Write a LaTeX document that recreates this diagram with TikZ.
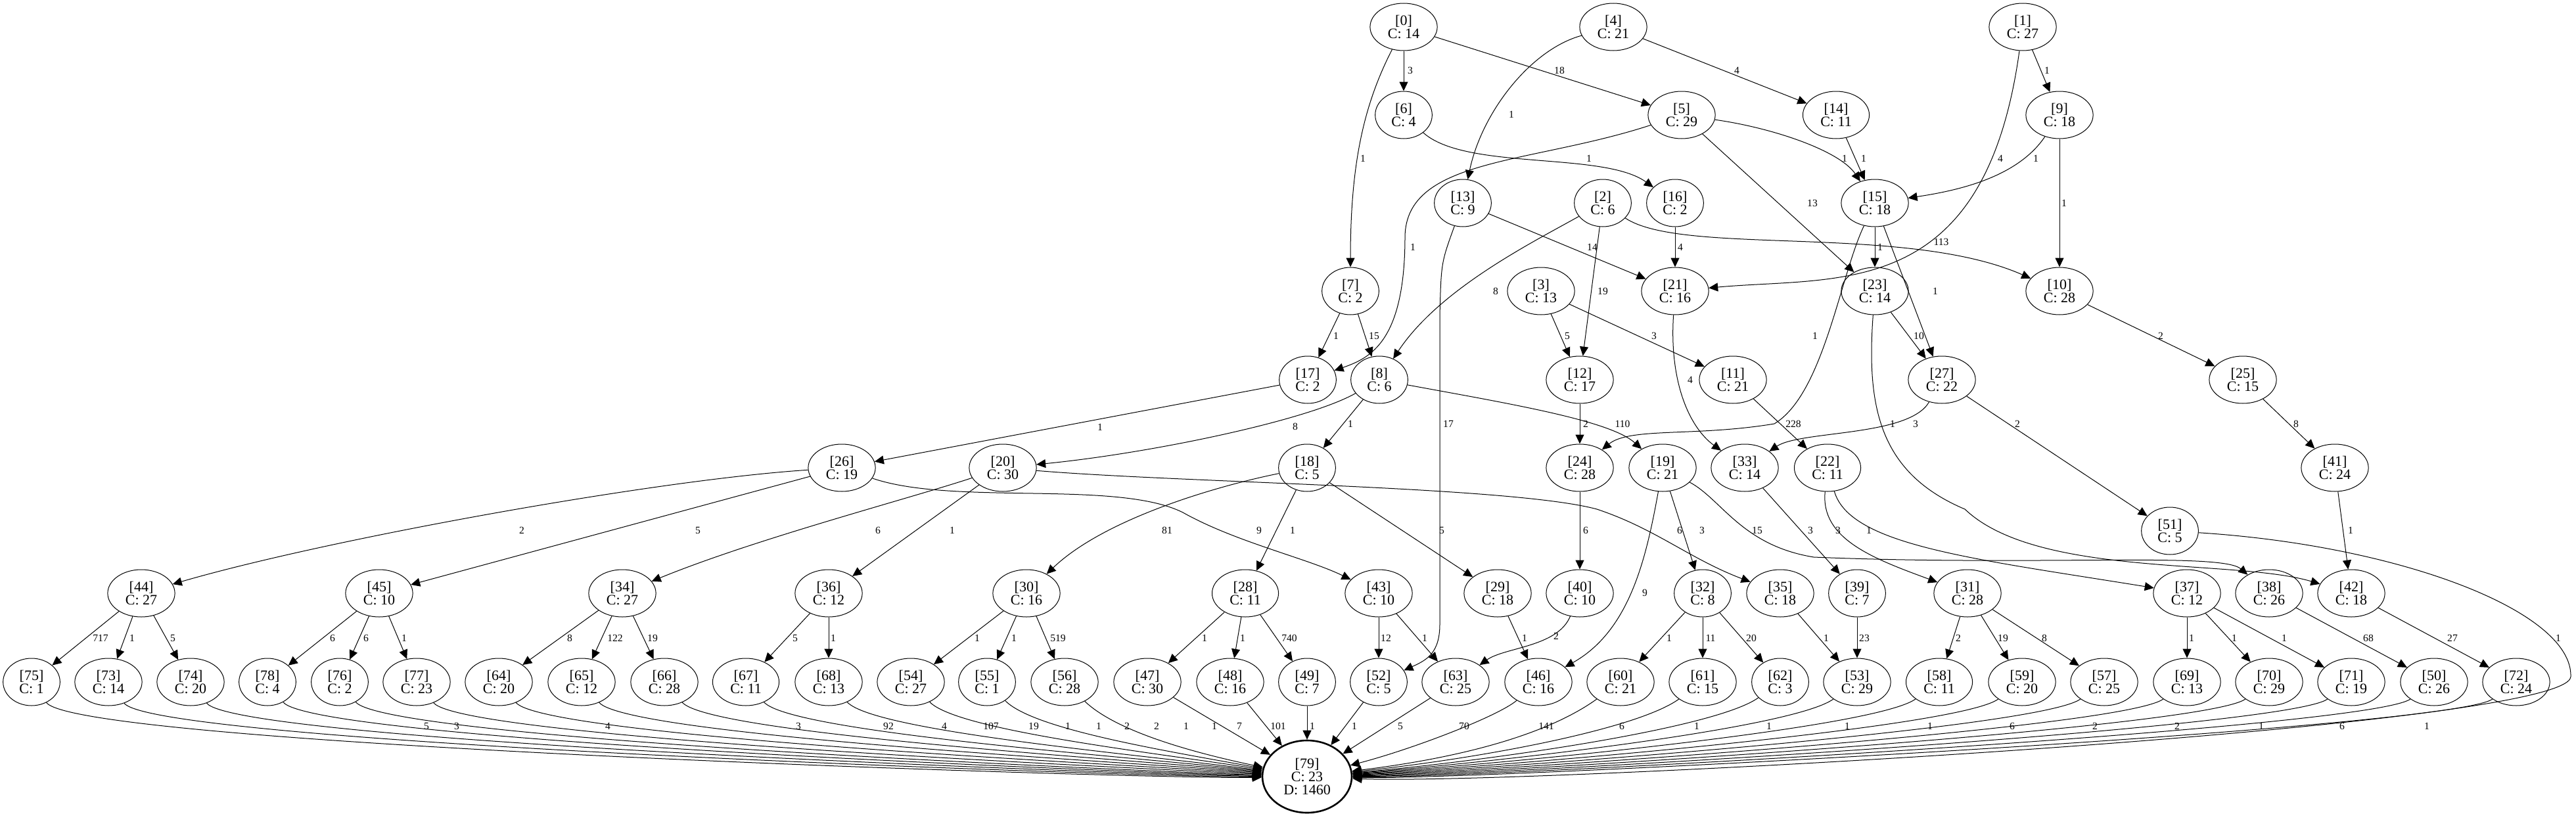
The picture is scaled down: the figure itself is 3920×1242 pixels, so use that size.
\documentclass[tikz,border=0pt]{standalone}
\usepackage{fontspec}
\setmainfont{Liberation Serif}
\usetikzlibrary{shapes.geometric, arrows.meta}

\tikzset{
  state/.style={ellipse, draw, line width=0.5pt, inner xsep=6pt, inner ysep=0pt,
    minimum height=36pt, align=center, font=\fontsize{11}{9.8}\selectfont},
  sink/.style={state, line width=1.3pt, minimum width=68pt, minimum height=55pt},
  flow/.style={-{Triangle[length=7pt,width=6.5pt]}, line width=0.5pt},
  cnt/.style={font=\fontsize{7.8}{8}\selectfont, inner sep=0pt}
}

\begin{document}
\begin{tikzpicture}[x=0.5pt, y=-0.5pt]
\useasboundingbox (0,0) rectangle (3920,1242);

% rank 0
\node[state] (n0) at (2136,41) {[0]\\C: 14};
\node[state] (n4) at (2455,41) {[4]\\C: 21};
\node[state] (n1) at (3078,41) {[1]\\C: 27};
% rank 1
\node[state] (n6) at (2136,175) {[6]\\C: 4};
\node[state] (n5) at (2559,175) {[5]\\C: 29};
\node[state] (n14) at (2794,175) {[14]\\C: 11};
\node[state] (n9) at (3134,175) {[9]\\C: 18};
% rank 2
\node[state] (n13) at (2226,309) {[13]\\C: 9};
\node[state] (n2) at (2439,309) {[2]\\C: 6};
\node[state] (n16) at (2549,309) {[16]\\C: 2};
\node[state] (n15) at (2853,309) {[15]\\C: 18};
% rank 3
\node[state] (n7) at (2055,443) {[7]\\C: 2};
\node[state] (n3) at (2345,443) {[3]\\C: 13};
\node[state] (n21) at (2549,443) {[21]\\C: 16};
\node[state] (n23) at (2853,443) {[23]\\C: 14};
\node[state] (n10) at (3134,443) {[10]\\C: 28};
% rank 4
\node[state] (n17) at (1990,578) {[17]\\C: 2};
\node[state] (n8) at (2099,578) {[8]\\C: 6};
\node[state] (n12) at (2404,578) {[12]\\C: 17};
\node[state] (n11) at (2637,578) {[11]\\C: 21};
\node[state] (n27) at (2955,578) {[27]\\C: 22};
\node[state] (n25) at (3413,578) {[25]\\C: 15};
% rank 5
\node[state] (n26) at (1281,712) {[26]\\C: 19};
\node[state] (n20) at (1526,712) {[20]\\C: 30};
\node[state] (n18) at (1989,712) {[18]\\C: 5};
\node[state] (n24) at (2404,712) {[24]\\C: 28};
\node[state] (n19) at (2530,712) {[19]\\C: 21};
\node[state] (n33) at (2655,712) {[33]\\C: 14};
\node[state] (n22) at (2781,712) {[22]\\C: 11};
\node[state] (n41) at (3553,712) {[41]\\C: 24};
\node[state] (n51) at (3302,808) {[51]\\C: 5};
% rank 6
\node[state] (n44) at (215,903) {[44]\\C: 27};
\node[state] (n45) at (577,903) {[45]\\C: 10};
\node[state] (n34) at (947,903) {[34]\\C: 27};
\node[state] (n36) at (1261,903) {[36]\\C: 12};
\node[state] (n30) at (1562,903) {[30]\\C: 16};
\node[state] (n28) at (1895,903) {[28]\\C: 11};
\node[state] (n43) at (2098,903) {[43]\\C: 10};
\node[state] (n29) at (2279,903) {[29]\\C: 18};
\node[state] (n40) at (2404,903) {[40]\\C: 10};
\node[state] (n32) at (2591,903) {[32]\\C: 8};
\node[state] (n35) at (2709,903) {[35]\\C: 18};
\node[state] (n39) at (2826,903) {[39]\\C: 7};
\node[state] (n31) at (2994,903) {[31]\\C: 28};
\node[state] (n37) at (3328,903) {[37]\\C: 12};
\node[state] (n38) at (3453,903) {[38]\\C: 26};
\node[state] (n42) at (3578,903) {[42]\\C: 18};
% rank 7
\node[state] (n75) at (48,1038) {[75]\\C: 1};
\node[state] (n73) at (165,1038) {[73]\\C: 14};
\node[state] (n74) at (290,1038) {[74]\\C: 20};
\node[state] (n78) at (407,1038) {[78]\\C: 4};
\node[state] (n76) at (517,1038) {[76]\\C: 2};
\node[state] (n77) at (634,1038) {[77]\\C: 23};
\node[state] (n64) at (759,1038) {[64]\\C: 20};
\node[state] (n65) at (885,1038) {[65]\\C: 12};
\node[state] (n66) at (1011,1038) {[66]\\C: 28};
\node[state] (n67) at (1135,1038) {[67]\\C: 11};
\node[state] (n68) at (1261,1038) {[68]\\C: 13};
\node[state] (n54) at (1386,1038) {[54]\\C: 27};
\node[state] (n55) at (1502,1038) {[55]\\C: 1};
\node[state] (n56) at (1620,1038) {[56]\\C: 28};
\node[state] (n47) at (1746,1038) {[47]\\C: 30};
\node[state] (n48) at (1872,1038) {[48]\\C: 16};
\node[state] (n49) at (1989,1038) {[49]\\C: 7};
\node[state] (n52) at (2098,1038) {[52]\\C: 5};
\node[state] (n63) at (2215,1038) {[63]\\C: 25};
\node[state] (n46) at (2341,1038) {[46]\\C: 16};
\node[state] (n60) at (2466,1038) {[60]\\C: 21};
\node[state] (n61) at (2591,1038) {[61]\\C: 15};
\node[state] (n62) at (2709,1038) {[62]\\C: 3};
\node[state] (n53) at (2826,1038) {[53]\\C: 29};
\node[state] (n58) at (2951,1038) {[58]\\C: 11};
\node[state] (n59) at (3077,1038) {[59]\\C: 20};
\node[state] (n57) at (3202,1038) {[57]\\C: 25};
\node[state] (n69) at (3328,1038) {[69]\\C: 13};
\node[state] (n70) at (3453,1038) {[70]\\C: 29};
\node[state] (n71) at (3578,1038) {[71]\\C: 19};
\node[state] (n50) at (3704,1038) {[50]\\C: 26};
\node[state] (n72) at (3829,1038) {[72]\\C: 24};
% sink
\node[sink] (n79) at (1989,1182) {[79]\\C: 23\\D: 1460};

% upper part
\draw[flow] (n0) -- (n6) node[cnt] at (2146,107) {3};
\draw[flow] (n0) -- (n5) node[cnt] at (2373,107) {18};
\draw[flow] (n0) .. controls (2075,160) and (2055,250) .. (n7) node[cnt] at (2074,241) {1};
\draw[flow] (n4) -- (n14) node[cnt] at (2643,107) {4};
\draw[flow] (n4) .. controls (2330,75) and (2255,170) .. (n13) node[cnt] at (2300,174) {1};
\draw[flow] (n1) -- (n9) node[cnt] at (3115,107) {1};
\draw[flow] (n1) .. controls (3020,460) and (2800,420) .. (n21) node[cnt] at (3044,241) {4};
\draw[flow] (n9) .. controls (3070,270) and (2980,290) .. (n15) node[cnt] at (3098,241) {1};
\draw[flow] (n9) -- (n10) node[cnt] at (3141,309) {1};
\draw[flow] (n5) .. controls (2700,195) and (2800,230) .. (n15) node[cnt] at (2807,241) {1};
\draw[flow] (n14) -- (n15) node[cnt] at (2836,241) {1};
\draw[flow] (n5) .. controls (2330,250) and (2140,240) .. (2138,360)
  .. controls (2138,520) and (2085,545) .. (n17) node[cnt] at (2150,376) {1};
\draw[flow] (n5) -- (n23) node[cnt] at (2758,309) {13};
\draw[flow] (n6) .. controls (2230,260) and (2440,230) .. (n16) node[cnt] at (2418,241) {1};
\draw[flow] (n13) -- (n21) node[cnt] at (2423,376) {14};
\draw[flow] (n13) .. controls (2193,400) .. (2191,480) -- (2191,950)
  .. controls (2191,995) and (2170,1005) .. (n52) node[cnt] at (2204,645) {17};
\draw[flow] (n2) .. controls (2330,370) and (2190,440) .. (n8) node[cnt] at (2276,443) {8};
\draw[flow] (n2) -- (n12) node[cnt] at (2439,443) {19};
\draw[flow] (n2) .. controls (2560,390) and (2900,340) .. (n10) node[cnt] at (2954,368) {113};
\draw[flow] (n16) -- (n21) node[cnt] at (2557,376) {4};
\draw[flow] (n15) -- (n23) node[cnt] at (2861,376) {1};
\draw[flow] (n15) -- (n27) node[cnt] at (2945,443) {1};
\draw[flow] (n15) .. controls (2800,420) and (2775,600) .. (2700,645)
  .. controls (2580,665) and (2480,650) .. (n24) node[cnt] at (2762,511) {1};
\draw[flow] (n10) -- (n25) node[cnt] at (3288,511) {2};
\draw[flow] (n7) -- (n17) node[cnt] at (2033,511) {1};
\draw[flow] (n7) -- (n8) node[cnt] at (2091,511) {15};
\draw[flow] (n3) -- (n12) node[cnt] at (2385,511) {5};
\draw[flow] (n3) -- (n11) node[cnt] at (2517,511) {3};
\draw[flow] (n21) .. controls (2540,580) and (2570,650) .. (n33) node[cnt] at (2572,578) {4};
\draw[flow] (n23) -- (n27) node[cnt] at (2920,511) {10};
\draw[flow] (n23) .. controls (2840,620) and (2860,720) .. (2990,775)
  .. controls (3100,880) and (3400,850) .. (n42) node[cnt] at (2880,645) {1};
\draw[flow] (n27) .. controls (2905,665) and (2740,655) .. (n33) node[cnt] at (2915,645) {3};
\draw[flow] (n27) -- (n51) node[cnt] at (3070,645) {2};
\draw[flow] (n25) -- (n41) node[cnt] at (3494,645) {8};
\draw[flow] (n41) -- (n42) node[cnt] at (3577,807) {1};

% middle part
\draw[flow] (n17) -- (n26) node[cnt] at (1674,650) {1};
\draw[flow] (n8) .. controls (1990,640) and (1750,690) .. (n20) node[cnt] at (1971,649) {8};
\draw[flow] (n8) -- (n18) node[cnt] at (2055,645) {1};
\draw[flow] (n8) .. controls (2300,615) and (2450,640) .. (n19) node[cnt] at (2469,645) {110};
\draw[flow] (n12) -- (n24) node[cnt] at (2413,645) {2};
\draw[flow] (n11) -- (n22) node[cnt] at (2729,645) {228};
\draw[flow] (n26) .. controls (1000,730) and (500,820) .. (n44) node[cnt] at (794,807) {2};
\draw[flow] (n26) -- (n45) node[cnt] at (1062,807) {5};
\draw[flow] (n26) .. controls (1450,770) and (1700,730) .. (1800,780)
  .. controls (1880,825) and (1990,850) .. (n43) node[cnt] at (1916,807) {9};
\draw[flow] (n20) .. controls (1380,760) and (1150,820) .. (n34) node[cnt] at (1336,807) {6};
\draw[flow] (n20) -- (n36) node[cnt] at (1449,807) {1};
\draw[flow] (n20) .. controls (1800,735) and (2300,740) .. (2430,775)
  .. controls (2520,805) and (2570,850) .. (n35) node[cnt] at (2556,807) {6};
\draw[flow] (n18) .. controls (1850,740) and (1680,790) .. (n30) node[cnt] at (1776,807) {81};
\draw[flow] (n18) -- (n28) node[cnt] at (1967,807) {1};
\draw[flow] (n18) -- (n29) node[cnt] at (2194,807) {5};
\draw[flow] (n24) -- (n40) node[cnt] at (2413,807) {6};
\draw[flow] (n19) .. controls (2505,850) and (2480,960) .. (n46) node[cnt] at (2503,902) {9};
\draw[flow] (n19) -- (n32) node[cnt] at (2590,807) {3};
\draw[flow] (n19) .. controls (2620,760) and (2650,830) .. (2760,848)
  .. controls (3100,862) and (3380,840) .. (n38) node[cnt] at (2674,807) {15};
\draw[flow] (n33) -- (n39) node[cnt] at (2755,807) {3};
\draw[flow] (n22) .. controls (2770,820) and (2850,850) .. (n31) node[cnt] at (2797,807) {3};
\draw[flow] (n22) .. controls (2815,830) and (3000,850) .. (n37) node[cnt] at (2844,807) {1};

% lower part
\draw[flow] (n44) -- (n75) node[cnt] at (153,971) {717};
\draw[flow] (n44) -- (n73) node[cnt] at (201,971) {1};
\draw[flow] (n44) -- (n74) node[cnt] at (263,971) {5};
\draw[flow] (n45) -- (n78) node[cnt] at (506,971) {6};
\draw[flow] (n45) -- (n76) node[cnt] at (557,971) {6};
\draw[flow] (n45) -- (n77) node[cnt] at (615,971) {1};
\draw[flow] (n34) -- (n64) node[cnt] at (867,971) {8};
\draw[flow] (n34) -- (n65) node[cnt] at (936,971) {122};
\draw[flow] (n34) -- (n66) node[cnt] at (993,971) {19};
\draw[flow] (n36) -- (n67) node[cnt] at (1210,971) {5};
\draw[flow] (n36) -- (n68) node[cnt] at (1268,971) {1};
\draw[flow] (n30) -- (n54) node[cnt] at (1487,971) {1};
\draw[flow] (n30) -- (n55) node[cnt] at (1543,971) {1};
\draw[flow] (n30) -- (n56) node[cnt] at (1610,971) {519};
\draw[flow] (n28) -- (n47) node[cnt] at (1833,971) {1};
\draw[flow] (n28) -- (n48) node[cnt] at (1891,971) {1};
\draw[flow] (n28) -- (n49) node[cnt] at (1962,971) {740};
\draw[flow] (n43) -- (n52) node[cnt] at (2109,971) {12};
\draw[flow] (n43) -- (n63) node[cnt] at (2168,971) {1};
\draw[flow] (n29) -- (n46) node[cnt] at (2320,971) {1};
\draw[flow] (n40) .. controls (2370,985) and (2290,985) .. (n63) node[cnt] at (2368,968) {2};
\draw[flow] (n32) -- (n60) node[cnt] at (2540,971) {1};
\draw[flow] (n32) -- (n61) node[cnt] at (2603,971) {11};
\draw[flow] (n32) -- (n62) node[cnt] at (2665,971) {20};
\draw[flow] (n35) -- (n53) node[cnt] at (2779,971) {1};
\draw[flow] (n39) -- (n53) node[cnt] at (2837,971) {23};
\draw[flow] (n31) -- (n58) node[cnt] at (2980,971) {2};
\draw[flow] (n31) -- (n59) node[cnt] at (3048,971) {19};
\draw[flow] (n31) -- (n57) node[cnt] at (3111,971) {8};
\draw[flow] (n37) -- (n69) node[cnt] at (3335,971) {1};
\draw[flow] (n37) -- (n70) node[cnt] at (3400,971) {1};
\draw[flow] (n37) -- (n71) node[cnt] at (3476,971) {1};
\draw[flow] (n38) -- (n50) node[cnt] at (3604,971) {68};
\draw[flow] (n42) -- (n72) node[cnt] at (3732,971) {27};

% into the sink
\draw[flow] (n75) .. controls (118,1135) and (1750,1186) .. (n79) node[cnt] at (649,1105) {5};
\draw[flow] (n73) .. controls (235,1132) and (1750,1183) .. (n79) node[cnt] at (695,1105) {3};
\draw[flow] (n74) .. controls (360,1130) and (1750,1180) .. (n79) node[cnt] at (925,1105) {4};
\draw[flow] (n78) .. controls (477,1128) and (1750,1177) .. (n79) node[cnt] at (1215,1105) {3};
\draw[flow] (n76) .. controls (587,1126) and (1750,1174) .. (n79) node[cnt] at (1352,1105) {92};
\draw[flow] (n77) .. controls (704,1124) and (1750,1170) .. (n79) node[cnt] at (1437,1105) {4};
\draw[flow] (n64) .. controls (829,1122) and (1750,1166) .. (n79) node[cnt] at (1508,1105) {107};
\draw[flow] (n65) .. controls (955,1120) and (1750,1162) .. (n79) node[cnt] at (1573,1105) {19};
\draw[flow] (n66) .. controls (1081,1118) and (1750,1158) .. (n79) node[cnt] at (1625,1105) {1};
\draw[flow] (n67) .. controls (1205,1116) and (1750,1154) .. (n79) node[cnt] at (1672,1105) {1};
\draw[flow] (n68) .. controls (1331,1114) and (1750,1150) .. (n79) node[cnt] at (1715,1105) {2};
\draw[flow] (n54) .. controls (1456,1112) and (1760,1146) .. (n79) node[cnt] at (1760,1105) {2};
\draw[flow] (n55) .. controls (1572,1110) and (1770,1142) .. (n79) node[cnt] at (1805,1105) {1};
\draw[flow] (n56) .. controls (1690,1105) and (1780,1138) .. (n79) node[cnt] at (1848,1105) {1};
\draw[flow] (n47) -- (n79) node[cnt] at (1886,1105) {7};
\draw[flow] (n48) -- (n79) node[cnt] at (1945,1105) {101};
\draw[flow] (n49) -- (n79) node[cnt] at (1997,1105) {1};
\draw[flow] (n52) -- (n79) node[cnt] at (2061,1105) {1};
\draw[flow] (n63) -- (n79) node[cnt] at (2131,1105) {5};
\draw[flow] (n46) .. controls (2280,1090) and (2150,1140) .. (n79) node[cnt] at (2228,1105) {70};
\draw[flow] (n60) .. controls (2366,1110) and (2250,1150) .. (n79) node[cnt] at (2353,1105) {141};
\draw[flow] (n61) .. controls (2491,1110) and (2250,1155) .. (n79) node[cnt] at (2468,1105) {6};
\draw[flow] (n62) .. controls (2609,1110) and (2250,1160) .. (n79) node[cnt] at (2582,1105) {1};
\draw[flow] (n53) .. controls (2726,1110) and (2250,1163) .. (n79) node[cnt] at (2692,1105) {1};
\draw[flow] (n58) .. controls (2851,1110) and (2250,1166) .. (n79) node[cnt] at (2811,1105) {1};
\draw[flow] (n59) .. controls (2977,1110) and (2250,1169) .. (n79) node[cnt] at (2937,1105) {1};
\draw[flow] (n57) .. controls (3102,1110) and (2250,1172) .. (n79) node[cnt] at (3062,1105) {6};
\draw[flow] (n69) .. controls (3228,1110) and (2250,1175) .. (n79) node[cnt] at (3188,1105) {2};
\draw[flow] (n70) .. controls (3353,1110) and (2250,1178) .. (n79) node[cnt] at (3313,1105) {2};
\draw[flow] (n71) .. controls (3478,1110) and (2250,1181) .. (n79) node[cnt] at (3441,1105) {1};
\draw[flow] (n50) .. controls (3604,1110) and (2250,1184) .. (n79) node[cnt] at (3564,1105) {6};
\draw[flow] (n72) .. controls (3729,1110) and (2250,1187) .. (n79) node[cnt] at (3693,1105) {1};
\draw[flow] (n51) .. controls (3650,830) and (3915,930) .. (3912,1030)
  .. controls (3908,1110) and (2300,1195) .. (n79) node[cnt] at (3893,971) {1};
\end{tikzpicture}
\end{document}
